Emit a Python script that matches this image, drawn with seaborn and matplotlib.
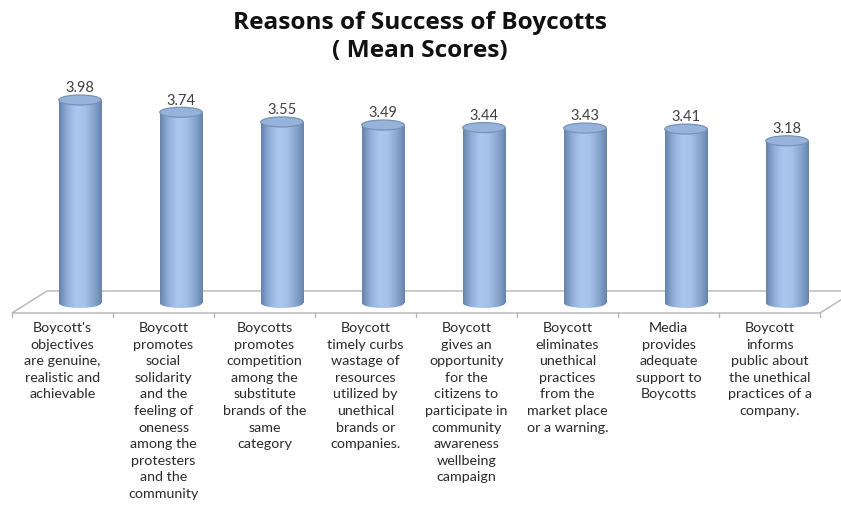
import numpy as np
import pandas as pd
import matplotlib
matplotlib.use("Agg")
import matplotlib.pyplot as plt
import seaborn as sns
from matplotlib.patches import Ellipse, Polygon
from matplotlib.colors import LinearSegmentedColormap

categories = [
    "Boycott's\nobjectives\nare genuine,\nrealistic and\nachievable",
    "Boycott\npromotes\nsocial\nsolidarity\nand the\nfeeling of\noneness\namong the\nprotesters\nand the\ncommunity",
    "Boycotts\npromotes\ncompetition\namong the\nsubstitute\nbrands of the\nsame\ncategory",
    "Boycott\ntimely curbs\nwastage of\nresources\nutilized by\nunethical\nbrands or\ncompanies.",
    "Boycott\ngives an\nopportunity\nfor the\ncitizens to\nparticipate in\ncommunity\nawareness\nwellbeing\ncampaign",
    "Boycott\neliminates\nunethical\npractices\nfrom the\nmarket place\nor a warning.",
    "Media\nprovides\nadequate\nsupport to\nBoycotts",
    "Boycott\ninforms\npublic about\nthe unethical\npractices of a\ncompany.",
]
values = [3.98, 3.74, 3.55, 3.49, 3.44, 3.43, 3.41, 3.18]
title = "Reasons of Success of Boycotts\n( Mean Scores)"

sns.set_theme(style="white")
plt.rcParams["font.family"] = ["Lato", "DejaVu Sans"]

W, H = 841, 508
fig = plt.figure(figsize=(W / 100, H / 100), dpi=100)
# pixel mapping: bar i centre at 80 + 101*i px ; value 0 at y=303 px, 51 px per unit
x0_px, sx = 80.0, 101.0
y0_px, sy = 303.0, 51.0
xlim = (-x0_px / sx, (W - x0_px) / sx)
ax_bottom_px, ax_top_px = 505.0, 60.0
ylim = ((y0_px - ax_bottom_px) / sy, (y0_px - ax_top_px) / sy)
ax = fig.add_axes([0, 1 - ax_bottom_px / H, 1, (ax_bottom_px - ax_top_px) / H])

df = pd.DataFrame({"cat": [f"c{i}" for i in range(len(values))], "val": values})
bw = 0.42
sns.barplot(data=df, x="cat", y="val", color="#95b3d7", width=bw, ax=ax,
            zorder=3, edgecolor="none", linewidth=0)
ax.set_xlim(*xlim)
ax.set_ylim(*ylim)
ax.set_axis_off()

# floor (3D base)
front_y, back_y = -10 / sy, 12 / sy
fl = (12 - x0_px) / sx
fr = (820 - x0_px) / sx
dx = 35 / sx
floor = Polygon([(fl, front_y), (fr, front_y), (fr + dx, back_y), (fl + dx, back_y)],
                closed=True, facecolor="white", edgecolor="#b4b4b4", lw=1.0, zorder=1)
ax.add_patch(floor)
for k in range(len(values) + 1):
    xt = fl + k
    ax.plot([xt, xt], [front_y, front_y - 4 / sy], color="#b4b4b4", lw=1.0, zorder=1)

cmap = LinearSegmentedColormap.from_list(
    "cyl", ["#6582aa", "#92b0da", "#aac7ee", "#a6c2ea", "#8aa7d0", "#6884ab"])
grad = np.linspace(0, 1, 256).reshape(1, -1)
eh = 10 / sy

for p, v in zip(ax.patches[:len(values)], values):
    x = p.get_x()
    w = p.get_width()
    h = p.get_height()
    im = ax.imshow(grad, cmap=cmap, aspect="auto", extent=(x, x + w, 0, h), zorder=3.1)
    im.set_clip_path(p)
    eb = Ellipse((x + w / 2, 0), w, eh, facecolor="none", edgecolor="none", zorder=2.9)
    ax.add_patch(eb)
    im2 = ax.imshow(grad, cmap=cmap, aspect="auto", extent=(x, x + w, -eh, 0), zorder=2.9)
    im2.set_clip_path(eb)
    et = Ellipse((x + w / 2, h), w, eh, facecolor="#97b3da", edgecolor="#7592bb",
                 lw=0.9, zorder=3.3)
    ax.add_patch(et)
    ax.text(x + w / 2, h + 0.23, f"{v:.2f}", ha="center", va="center",
            fontsize=10.5, color="#404040", zorder=4)

for i, lab in enumerate(categories):
    xc = fl + i + 0.5
    ax.text(xc, (y0_px - 322) / sy, lab, ha="center", va="top", fontsize=10.3,
            color="#2a2a2a", linespacing=1.46, zorder=4)

fig.text(420 / W, 1 - 37 / H, title, ha="center", va="center", fontsize=17.6,
         fontweight="bold", color="#111111", linespacing=1.22,
         family=["Open Sans", "DejaVu Sans"])

fig.savefig("out.png", dpi=100)
